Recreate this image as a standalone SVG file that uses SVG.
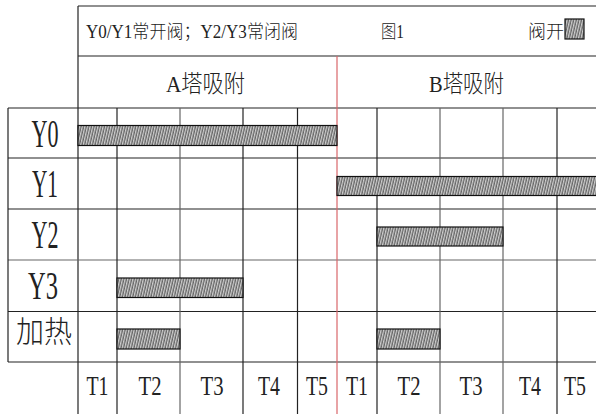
<svg xmlns="http://www.w3.org/2000/svg" width="596" height="414" viewBox="0 0 596 414">
<style>
.t{font-family:"Liberation Serif","Noto Sans CJK SC",serif;fill:#222}
.c{font-family:"Liberation Serif","Noto Sans CJK SC",sans-serif;fill:#222;font-weight:300}
.g{stroke:#222;stroke-width:1.2;fill:none}
.g2{stroke:#666;stroke-width:1.2;fill:none}
.bar{fill:url(#hatch);stroke:#111;stroke-width:1.2}
</style>
<defs>
<pattern id="hatch" width="2.6" height="20" patternUnits="userSpaceOnUse" patternTransform="skewX(-13)">
<rect width="2.6" height="20" fill="#cfcfcf"/>
<line x1="1" y1="0" x2="1" y2="20" stroke="#333" stroke-width="0.9"/>
</pattern>
</defs>
<rect width="596" height="414" fill="#fff"/>
<g id="grid">
<line class="g" x1="78" y1="6" x2="596" y2="6"/>
<line class="g" x1="78" y1="56" x2="596" y2="56"/>
<line class="g" x1="78" y1="6" x2="78" y2="414"/>
<line class="g" x1="8" y1="108" x2="596" y2="108"/>
<line class="g" x1="8" y1="158" x2="596" y2="158"/>
<line class="g" x1="8" y1="209" x2="596" y2="209"/>
<line class="g2" x1="8" y1="260" x2="596" y2="260"/>
<line class="g" x1="8" y1="311.5" x2="596" y2="311.5"/>
<line class="g" x1="8" y1="362" x2="596" y2="362"/>
<line class="g" x1="8" y1="108" x2="8" y2="362"/>
<line class="g" x1="117" y1="108" x2="117" y2="414"/>
<line class="g2" x1="180" y1="108" x2="180" y2="414"/>
<line class="g" x1="243" y1="108" x2="243" y2="414"/>
<line class="g" x1="297.5" y1="108" x2="297.5" y2="414"/>
<line class="g" x1="377" y1="108" x2="377" y2="414"/>
<line class="g2" x1="440" y1="108" x2="440" y2="414"/>
<line class="g2" x1="503" y1="108" x2="503" y2="414"/>
<line class="g" x1="557" y1="108" x2="557" y2="414"/>
<line x1="337" y1="56" x2="337" y2="414" stroke="#d9666a" stroke-width="1.2"/>
</g>
<g id="header">
<text class="c" x="86" y="38" font-size="18" textLength="212" lengthAdjust="spacingAndGlyphs">Y0/Y1常开阀；Y2/Y3常闭阀</text>
<text class="c" x="381" y="38" font-size="18" textLength="23" lengthAdjust="spacingAndGlyphs">图1</text>
<text class="c" x="528" y="38" font-size="18" textLength="36" lengthAdjust="spacingAndGlyphs">阀开</text>
<rect x="565" y="19" width="19" height="20" fill="url(#hatch)" stroke="#111" stroke-width="1.2"/>
<text class="c" x="166" y="92" font-size="24" textLength="79" lengthAdjust="spacingAndGlyphs">A塔吸附</text>
<text class="c" x="429" y="92" font-size="24" textLength="75" lengthAdjust="spacingAndGlyphs">B塔吸附</text>
</g>
<g id="row-labels">
<text class="t" x="45" y="147" font-size="39" text-anchor="middle" textLength="27" lengthAdjust="spacingAndGlyphs">Y0</text>
<text class="t" x="45" y="197" font-size="39" text-anchor="middle" textLength="26" lengthAdjust="spacingAndGlyphs">Y1</text>
<text class="t" x="45" y="248" font-size="39" text-anchor="middle" textLength="27" lengthAdjust="spacingAndGlyphs">Y2</text>
<text class="t" x="43" y="299" font-size="39" text-anchor="middle" textLength="30" lengthAdjust="spacingAndGlyphs">Y3</text>
<text class="c" x="16" y="342" font-size="30" textLength="56" lengthAdjust="spacingAndGlyphs">加热</text>
</g>
<g id="time-labels">
<text class="t" x="97.5" y="395" font-size="28" text-anchor="middle" textLength="22" lengthAdjust="spacingAndGlyphs">T1</text>
<text class="t" x="150" y="395" font-size="28" text-anchor="middle" textLength="23" lengthAdjust="spacingAndGlyphs">T2</text>
<text class="t" x="212" y="395" font-size="28" text-anchor="middle" textLength="23" lengthAdjust="spacingAndGlyphs">T3</text>
<text class="t" x="269" y="395" font-size="28" text-anchor="middle" textLength="22" lengthAdjust="spacingAndGlyphs">T4</text>
<text class="t" x="317" y="395" font-size="28" text-anchor="middle" textLength="22" lengthAdjust="spacingAndGlyphs">T5</text>
<text class="t" x="357" y="395" font-size="28" text-anchor="middle" textLength="22" lengthAdjust="spacingAndGlyphs">T1</text>
<text class="t" x="409" y="395" font-size="28" text-anchor="middle" textLength="23" lengthAdjust="spacingAndGlyphs">T2</text>
<text class="t" x="471" y="395" font-size="28" text-anchor="middle" textLength="23" lengthAdjust="spacingAndGlyphs">T3</text>
<text class="t" x="530" y="395" font-size="28" text-anchor="middle" textLength="22" lengthAdjust="spacingAndGlyphs">T4</text>
<text class="t" x="575" y="395" font-size="28" text-anchor="middle" textLength="22" lengthAdjust="spacingAndGlyphs">T5</text>
</g>
<g id="bars">
<rect class="bar" x="78" y="125.5" width="259" height="20"/>
<rect class="bar" x="337" y="176.5" width="260" height="19"/>
<rect class="bar" x="377" y="227" width="126" height="19"/>
<rect class="bar" x="117" y="278" width="126" height="19.5"/>
<rect class="bar" x="117" y="329" width="63" height="20"/>
<rect class="bar" x="377" y="329" width="63" height="20"/>
</g>
</svg>
